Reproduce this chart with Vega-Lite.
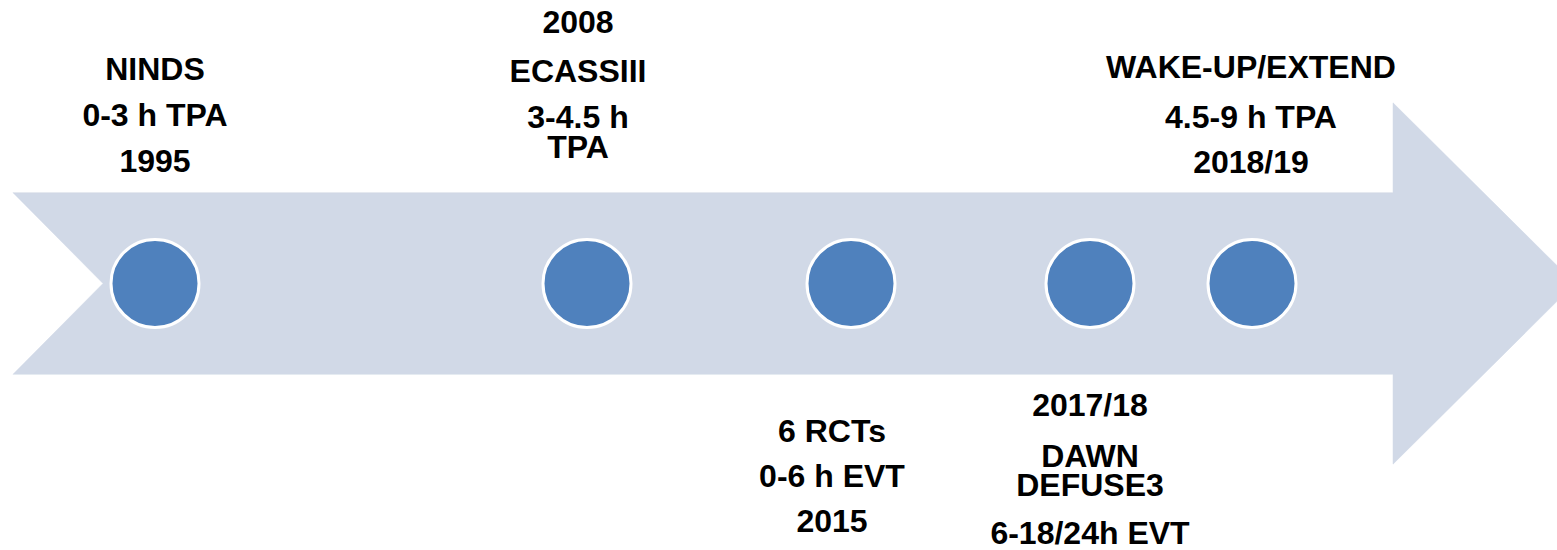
{
  "$schema": "https://vega.github.io/schema/vega-lite/v6.json",
  "width": 1557,
  "height": 550,
  "autosize": {"type": "fit", "contains": "padding"},
  "padding": 0,
  "background": "#ffffff",
  "config": {"view": {"stroke": null}},
  "datasets": {
    "arrow": [
      {"i": 0, "x": 13, "y": 193},
      {"i": 1, "x": 1393, "y": 193},
      {"i": 2, "x": 1393, "y": 103},
      {"i": 3, "x": 1575, "y": 284},
      {"i": 4, "x": 1393, "y": 465},
      {"i": 5, "x": 1393, "y": 375},
      {"i": 6, "x": 13, "y": 375},
      {"i": 7, "x": 103, "y": 284},
      {"i": 8, "x": 13, "y": 193}
    ],
    "events": [
      {"event": "NINDS", "x": 155, "y": 284},
      {"event": "ECASS III", "x": 587, "y": 284},
      {"event": "6 RCTs", "x": 851, "y": 284},
      {"event": "DAWN / DEFUSE3", "x": 1090, "y": 284},
      {"event": "WAKE-UP / EXTEND", "x": 1252, "y": 284}
    ],
    "labels": [
      {"x": 155, "y": 80, "text": "NINDS"},
      {"x": 155, "y": 126, "text": "0-3 h TPA"},
      {"x": 155, "y": 172, "text": "1995"},
      {"x": 578, "y": 33, "text": "2008"},
      {"x": 578, "y": 82, "text": "ECASSIII"},
      {"x": 578, "y": 128, "text": "3-4.5 h"},
      {"x": 578, "y": 158, "text": "TPA"},
      {"x": 1251, "y": 78, "text": "WAKE-UP/EXTEND"},
      {"x": 1251, "y": 128, "text": "4.5-9 h TPA"},
      {"x": 1251, "y": 173, "text": "2018/19"},
      {"x": 832, "y": 443, "text": "6 RCTs"},
      {"x": 832, "y": 488, "text": "0-6 h EVT"},
      {"x": 832, "y": 533, "text": "2015"},
      {"x": 1090, "y": 417, "text": "2017/18"},
      {"x": 1090, "y": 468, "text": "DAWN"},
      {"x": 1090, "y": 497, "text": "DEFUSE3"},
      {"x": 1090, "y": 545, "text": "6-18/24h EVT"}
    ]
  },
  "encoding": {
    "x": {"field": "x", "type": "quantitative", "scale": {"domain": [0, 1557], "nice": false, "zero": false}, "axis": null},
    "y": {"field": "y", "type": "quantitative", "scale": {"domain": [0, 550], "nice": false, "zero": false, "reverse": true}, "axis": null}
  },
  "layer": [
    {
      "data": {"name": "arrow"},
      "mark": {"type": "line", "fill": "#d1d9e7", "stroke": "#d1d9e7", "strokeWidth": 0.5, "clip": true, "interpolate": "linear"},
      "encoding": {"order": {"field": "i", "type": "quantitative"}}
    },
    {
      "data": {"name": "events"},
      "mark": {"type": "point", "shape": "circle", "filled": true, "fill": "#4f81bd", "fillOpacity": 1, "stroke": "#ffffff", "strokeWidth": 3, "strokeOpacity": 1, "size": 7744, "opacity": 1}
    },
    {
      "data": {"name": "labels"},
      "mark": {"type": "text", "font": "Liberation Sans", "fontWeight": "bold", "fontSize": 32, "align": "center", "baseline": "alphabetic", "color": "#000000"},
      "encoding": {"text": {"field": "text", "type": "nominal"}}
    }
  ]
}
